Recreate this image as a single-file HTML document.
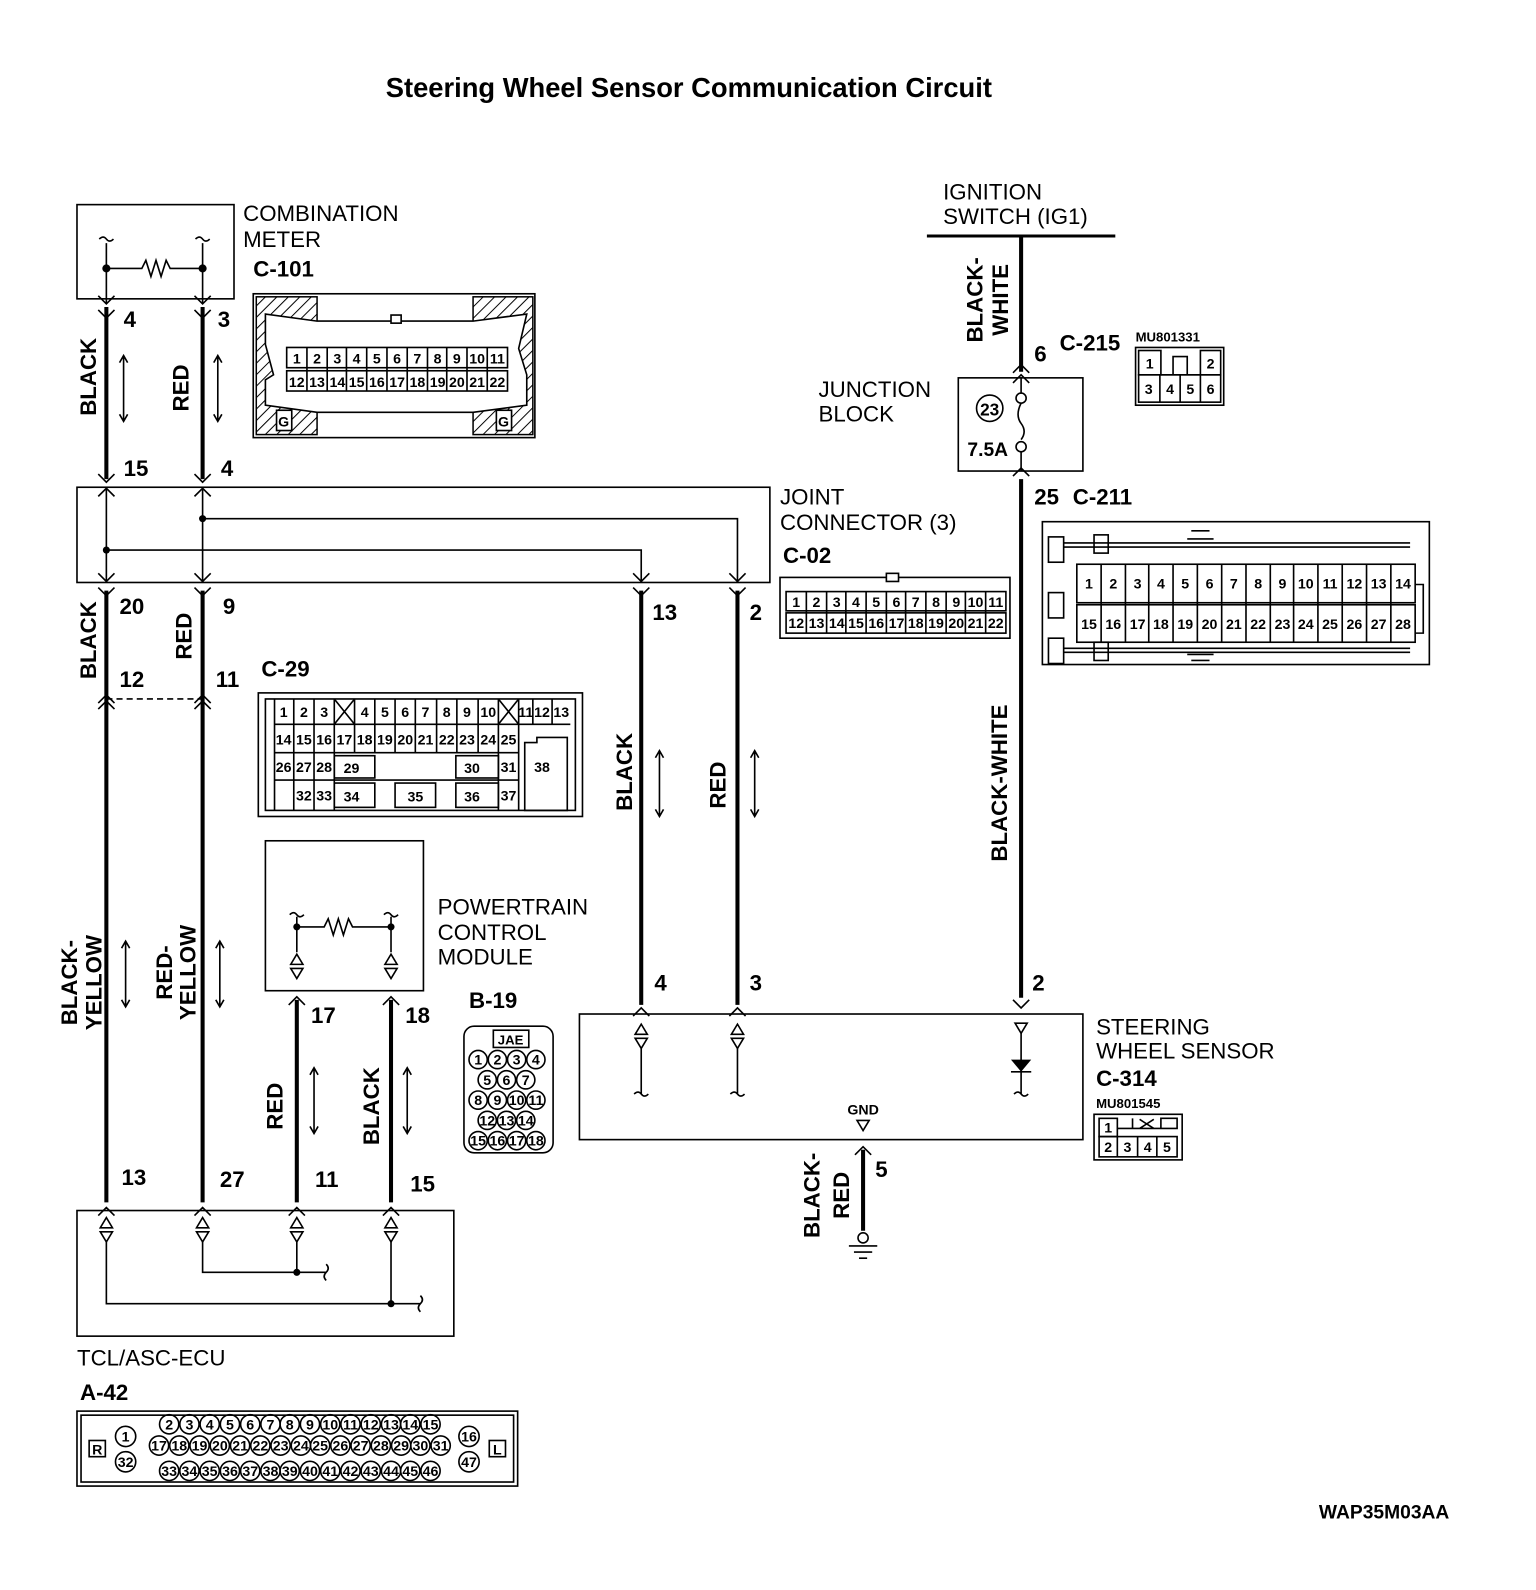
<!DOCTYPE html>
<html><head><meta charset="utf-8"><style>
html,body{margin:0;padding:0;background:#fff;}
svg{display:block;}
text{font-family:"Liberation Sans",sans-serif;fill:#000;}
.l{font-size:22px;}
.b{font-size:22px;font-weight:bold;}
.s{font-size:13px;font-weight:bold;}
.c{font-size:14px;font-weight:bold;text-anchor:middle;}
.w{stroke:#000;stroke-width:4;fill:none;}
.t{stroke:#000;stroke-width:1.6;fill:none;}
.r{stroke:#000;stroke-width:1.6;fill:#fff;}
</style></head><body>
<svg width="1536" height="1590" viewBox="0 0 1536 1590" xmlns="http://www.w3.org/2000/svg">
<defs>
<pattern id="h" width="8" height="8" patternUnits="userSpaceOnUse" patternTransform="rotate(45)"><line x1="0" y1="0" x2="0" y2="8" stroke="#000" stroke-width="2"/></pattern>
</defs>
<g transform="scale(1.013)">
<text x="680" y="96" text-anchor="middle" style="font-size:27px;font-weight:bold">Steering Wheel Sensor Communication Circuit</text>

<!-- combination meter -->
<rect x="76" y="202" width="155" height="93" class="t"/>
<path d="M105 240 V300 M200 240 V300 M105 265 H140 l4 -8 l5 16 l5 -16 l5 16 l5 -16 l4 8 H200" class="t"/>
<path d="M98 236 q4 -4 7 0 q3 4 7 0 M193 236 q4 -4 7 0 q3 4 7 0" class="t"/>
<circle cx="105" cy="265" r="4"/><circle cx="200" cy="265" r="4"/>
<text x="240" y="218" class="l">COMBINATION</text><text x="240" y="244" class="l">METER</text>
<text x="250" y="273" class="b">C-101</text>

<!-- main wires -->
<path d="M105 303 V473 M200 303 V473 M105 583 V1187 M200 583 V1187 M633 583 V992 M728 583 V992 M1008 233 V367 M1008 473 V985 M293 987 V1187 M386 987 V1187 M852 1135 V1215" class="w"/>
<!-- forks -->
<path d="M97 292 L105 300 L113 292 M192 292 L200 300 L208 292 M97 306 L105 314 L113 306 M192 306 L200 314 L208 306
M97 490 L105 482 L113 490 M192 490 L200 482 L208 490 M97 468 L105 476 L113 468 M192 468 L200 476 L208 468
M97 566 L105 574 L113 566 M192 566 L200 574 L208 566 M97 580 L105 588 L113 580 M192 580 L200 588 L208 580
M625 566 L633 574 L641 566 M720 566 L728 574 L736 566 M625 580 L633 588 L641 580 M720 580 L728 588 L736 580
M97 694 L105 686 L113 694 M192 694 L200 686 L208 694 M97 700 L105 692 L113 700 M192 700 L200 692 L208 700
M625 1003 L633 995 L641 1003 M720 1003 L728 995 L736 1003 M1000 987 L1008 995 L1016 987
M285 992 L293 984 L301 992 M378 992 L386 984 L394 992 M844 1140 L852 1132 L860 1140
M97 1200 L105 1192 L113 1200 M192 1200 L200 1192 L208 1200 M285 1200 L293 1192 L301 1200 M378 1200 L386 1192 L394 1200
M1000 378 L1008 370 L1016 378 M1000 470 L1008 462 L1016 470 M1000 368 L1008 360 L1016 368" class="t"/>
<path d="M105 690 H200" class="t" stroke-dasharray="6,4"/>
<text x="122" y="323" class="b">4</text><text x="215" y="323" class="b">3</text>
<text transform="translate(95,372) rotate(-90)" text-anchor="middle" class="b">BLACK</text>
<text transform="translate(186,383) rotate(-90)" text-anchor="middle" class="b">RED</text>
<path d="M122 352 V415 M118 358 L122 351 L126 358 M118 409 L122 416 L126 409 M215 352 V415 M211 358 L215 351 L219 358 M211 409 L215 416 L219 409" class="t"/>
<text x="122" y="470" class="b">15</text><text x="218" y="470" class="b">4</text>

<!-- joint connector -->
<rect x="76" y="481" width="684" height="94" class="t"/>
<path d="M200 512 H728 V575 M105 543 H633 V575" class="t"/>
<circle cx="200" cy="512" r="3.5"/><circle cx="105" cy="543" r="3.5"/>
<path d="M105 481 V575 M200 481 V575" class="t"/>
<text x="770" y="498" class="l">JOINT</text><text x="770" y="523" class="l">CONNECTOR (3)</text>
<text x="773" y="556" class="b">C-02</text>

<text x="118" y="606" class="b">20</text><text x="220" y="606" class="b">9</text>
<text transform="translate(95,632) rotate(-90)" text-anchor="middle" class="b">BLACK</text>
<text transform="translate(189,628) rotate(-90)" text-anchor="middle" class="b">RED</text>
<text x="118" y="678" class="b">12</text><text x="213" y="678" class="b">11</text>
<text x="258" y="668" class="b">C-29</text>
<text x="644" y="612" class="b">13</text><text x="740" y="612" class="b">2</text>
<text transform="translate(624,762) rotate(-90)" text-anchor="middle" class="b">BLACK</text>
<text transform="translate(716,775) rotate(-90)" text-anchor="middle" class="b">RED</text>
<path d="M651 742 V805 M647 748 L651 741 L655 748 M647 799 L651 806 L655 799 M745 742 V805 M741 748 L745 741 L749 748 M741 799 L745 806 L749 799" class="t"/>

<text transform="translate(76,970) rotate(-90)" text-anchor="middle" class="b">BLACK-</text>
<text transform="translate(100,970) rotate(-90)" text-anchor="middle" class="b">YELLOW</text>
<text transform="translate(170,960) rotate(-90)" text-anchor="middle" class="b">RED-</text>
<text transform="translate(193,960) rotate(-90)" text-anchor="middle" class="b">YELLOW</text>
<path d="M124 930 V993 M120 936 L124 929 L128 936 M120 987 L124 994 L128 987 M217 930 V993 M213 936 L217 929 L221 936 M213 987 L217 994 L221 987" class="t"/>

<!-- PCM -->
<rect x="262" y="830" width="156" height="148" class="t"/>
<path d="M293 915 H320 l4 -8 l5 16 l5 -16 l5 16 l5 -16 l4 8 H386 M293 905 V940 M386 905 V940" class="t"/>
<path d="M286 903 q4 -4 7 0 q3 4 7 0 M379 903 q4 -4 7 0 q3 4 7 0" class="t"/>
<circle cx="293" cy="915" r="3.5"/><circle cx="386" cy="915" r="3.5"/>
<path d="M287 952 L293 942 L299 952 Z M287 956 L293 966 L299 956 Z M380 952 L386 942 L392 952 Z M380 956 L386 966 L392 956 Z" class="t"/>
<text x="432" y="903" class="l">POWERTRAIN</text><text x="432" y="928" class="l">CONTROL</text><text x="432" y="952" class="l">MODULE</text>
<text x="307" y="1010" class="b">17</text><text x="400" y="1010" class="b">18</text>
<text x="463" y="995" class="b">B-19</text>
<text transform="translate(279,1092) rotate(-90)" text-anchor="middle" class="b">RED</text>
<text transform="translate(374,1092) rotate(-90)" text-anchor="middle" class="b">BLACK</text>
<path d="M310 1055 V1118 M306 1061 L310 1054 L314 1061 M306 1112 L310 1119 L314 1112 M402 1055 V1118 M398 1061 L402 1054 L406 1061 M398 1112 L402 1119 L406 1112" class="t"/>
<text x="120" y="1170" class="b">13</text><text x="217" y="1172" class="b">27</text><text x="311" y="1172" class="b">11</text><text x="405" y="1176" class="b">15</text>

<!-- TCL box -->
<rect x="76" y="1195" width="372" height="124" class="t"/>
<path d="M99 1212 L105 1202 L111 1212 Z M99 1216 L105 1226 L111 1216 Z M194 1212 L200 1202 L206 1212 Z M194 1216 L200 1226 L206 1216 Z M287 1212 L293 1202 L299 1212 Z M287 1216 L293 1226 L299 1216 Z M380 1212 L386 1202 L392 1212 Z M380 1216 L386 1226 L392 1216 Z" class="t"/>
<path d="M200 1226 V1256 H322 M293 1226 V1256 M105 1226 V1287 H415 M386 1226 V1287" class="t"/>
<path d="M322 1248 q4 4 0 8 q-4 4 0 8 M415 1279 q4 4 0 8 q-4 4 0 8" class="t"/>
<circle cx="293" cy="1256" r="3.5"/><circle cx="386" cy="1287" r="3.5"/>
<text x="76" y="1348" class="l">TCL/ASC-ECU</text>
<text x="79" y="1382" class="b">A-42</text>

<!-- A-42 connector -->
<rect x="76" y="1393" width="435" height="74" class="t"/>
<rect x="80" y="1397" width="427" height="66" class="t"/>
<rect x="88" y="1422" width="16" height="16" class="t"/><text x="96" y="1436" class="c">R</text>
<rect x="483" y="1422" width="16" height="16" class="t"/><text x="491" y="1436" class="c">L</text>
<g class="t">
<circle cx="124" cy="1418" r="10"/><circle cx="124" cy="1443" r="10"/><circle cx="463" cy="1418" r="10"/><circle cx="463" cy="1443" r="10"/>
</g>
<text x="124" y="1423" class="c">1</text><text x="124" y="1448" class="c">32</text><text x="463" y="1423" class="c">16</text><text x="463" y="1448" class="c">47</text>
<g class="t">
<circle cx="167" cy="1406" r="9.5"/><circle cx="187" cy="1406" r="9.5"/><circle cx="207" cy="1406" r="9.5"/><circle cx="227" cy="1406" r="9.5"/><circle cx="247" cy="1406" r="9.5"/><circle cx="267" cy="1406" r="9.5"/><circle cx="286" cy="1406" r="9.5"/><circle cx="306" cy="1406" r="9.5"/><circle cx="326" cy="1406" r="9.5"/><circle cx="346" cy="1406" r="9.5"/><circle cx="366" cy="1406" r="9.5"/><circle cx="386" cy="1406" r="9.5"/><circle cx="405" cy="1406" r="9.5"/><circle cx="425" cy="1406" r="9.5"/>
<circle cx="157" cy="1427" r="9.5"/><circle cx="177" cy="1427" r="9.5"/><circle cx="197" cy="1427" r="9.5"/><circle cx="217" cy="1427" r="9.5"/><circle cx="237" cy="1427" r="9.5"/><circle cx="257" cy="1427" r="9.5"/><circle cx="277" cy="1427" r="9.5"/><circle cx="297" cy="1427" r="9.5"/><circle cx="316" cy="1427" r="9.5"/><circle cx="336" cy="1427" r="9.5"/><circle cx="356" cy="1427" r="9.5"/><circle cx="376" cy="1427" r="9.5"/><circle cx="396" cy="1427" r="9.5"/><circle cx="415" cy="1427" r="9.5"/><circle cx="435" cy="1427" r="9.5"/>
<circle cx="167" cy="1452" r="9.5"/><circle cx="187" cy="1452" r="9.5"/><circle cx="207" cy="1452" r="9.5"/><circle cx="227" cy="1452" r="9.5"/><circle cx="247" cy="1452" r="9.5"/><circle cx="267" cy="1452" r="9.5"/><circle cx="286" cy="1452" r="9.5"/><circle cx="306" cy="1452" r="9.5"/><circle cx="326" cy="1452" r="9.5"/><circle cx="346" cy="1452" r="9.5"/><circle cx="366" cy="1452" r="9.5"/><circle cx="386" cy="1452" r="9.5"/><circle cx="405" cy="1452" r="9.5"/><circle cx="425" cy="1452" r="9.5"/>
</g>
<g style="font-size:13px">
<text x="167" y="1411" class="c">2</text><text x="187" y="1411" class="c">3</text><text x="207" y="1411" class="c">4</text><text x="227" y="1411" class="c">5</text><text x="247" y="1411" class="c">6</text><text x="267" y="1411" class="c">7</text><text x="286" y="1411" class="c">8</text><text x="306" y="1411" class="c">9</text><text x="326" y="1411" class="c">10</text><text x="346" y="1411" class="c">11</text><text x="366" y="1411" class="c">12</text><text x="386" y="1411" class="c">13</text><text x="405" y="1411" class="c">14</text><text x="425" y="1411" class="c">15</text>
<text x="157" y="1432" class="c">17</text><text x="177" y="1432" class="c">18</text><text x="197" y="1432" class="c">19</text><text x="217" y="1432" class="c">20</text><text x="237" y="1432" class="c">21</text><text x="257" y="1432" class="c">22</text><text x="277" y="1432" class="c">23</text><text x="297" y="1432" class="c">24</text><text x="316" y="1432" class="c">25</text><text x="336" y="1432" class="c">26</text><text x="356" y="1432" class="c">27</text><text x="376" y="1432" class="c">28</text><text x="396" y="1432" class="c">29</text><text x="415" y="1432" class="c">30</text><text x="435" y="1432" class="c">31</text>
<text x="167" y="1457" class="c">33</text><text x="187" y="1457" class="c">34</text><text x="207" y="1457" class="c">35</text><text x="227" y="1457" class="c">36</text><text x="247" y="1457" class="c">37</text><text x="267" y="1457" class="c">38</text><text x="286" y="1457" class="c">39</text><text x="306" y="1457" class="c">40</text><text x="326" y="1457" class="c">41</text><text x="346" y="1457" class="c">42</text><text x="366" y="1457" class="c">43</text><text x="386" y="1457" class="c">44</text><text x="405" y="1457" class="c">45</text><text x="425" y="1457" class="c">46</text>
</g>

<!-- C-101 connector -->
<rect x="250" y="290" width="278" height="142" class="t"/>
<rect x="253" y="293" width="60" height="136" fill="url(#h)" stroke="#000" stroke-width="1.5"/>
<rect x="467" y="293" width="59" height="136" fill="url(#h)" stroke="#000" stroke-width="1.5"/>
<path d="M313 317 H467 L520 310 L512 344 L520 370 L520 400 L467 407 H313 L262 400 L262 375 L270 370 L262 340 L262 310 Z" fill="#fff" stroke="#000" stroke-width="1.6"/>
<rect x="386" y="311" width="10" height="8" class="r"/>
<rect x="273" y="405" width="15" height="20" class="r"/><text x="280" y="421" class="c">G</text>
<rect x="490" y="405" width="15" height="20" class="r"/><text x="497" y="421" class="c">G</text>
<g class="t">
<rect x="283" y="343" width="218" height="20"/><rect x="283" y="366" width="218" height="20"/>
<path d="M303 343 V386 M323 343 V386 M342 343 V386 M362 343 V386 M382 343 V386 M402 343 V386 M422 343 V386 M441 343 V386 M461 343 V386 M481 343 V386"/>
</g>
<g style="font-size:14px">
<text x="293" y="359" class="c">1</text><text x="313" y="359" class="c">2</text><text x="333" y="359" class="c">3</text><text x="352" y="359" class="c">4</text><text x="372" y="359" class="c">5</text><text x="392" y="359" class="c">6</text><text x="412" y="359" class="c">7</text><text x="432" y="359" class="c">8</text><text x="451" y="359" class="c">9</text><text x="471" y="359" class="c">10</text><text x="491" y="359" class="c">11</text>
<text x="293" y="382" class="c">12</text><text x="313" y="382" class="c">13</text><text x="333" y="382" class="c">14</text><text x="352" y="382" class="c">15</text><text x="372" y="382" class="c">16</text><text x="392" y="382" class="c">17</text><text x="412" y="382" class="c">18</text><text x="432" y="382" class="c">19</text><text x="451" y="382" class="c">20</text><text x="471" y="382" class="c">21</text><text x="491" y="382" class="c">22</text>
</g>

<!-- C-02 connector -->
<rect x="770" y="570" width="227" height="60" class="t"/>
<rect x="875" y="566" width="12" height="8" class="r"/>
<g class="t">
<rect x="776" y="584" width="217" height="19"/><rect x="776" y="605" width="217" height="20"/>
<path d="M796 584 V625 M816 584 V625 M835 584 V625 M855 584 V625 M875 584 V625 M894 584 V625 M914 584 V625 M934 584 V625 M953 584 V625 M973 584 V625"/>
</g>
<g style="font-size:13px">
<text x="786" y="599" class="c">1</text><text x="806" y="599" class="c">2</text><text x="826" y="599" class="c">3</text><text x="845" y="599" class="c">4</text><text x="865" y="599" class="c">5</text><text x="885" y="599" class="c">6</text><text x="904" y="599" class="c">7</text><text x="924" y="599" class="c">8</text><text x="944" y="599" class="c">9</text><text x="963" y="599" class="c">10</text><text x="983" y="599" class="c">11</text>
<text x="786" y="620" class="c">12</text><text x="806" y="620" class="c">13</text><text x="826" y="620" class="c">14</text><text x="845" y="620" class="c">15</text><text x="865" y="620" class="c">16</text><text x="885" y="620" class="c">17</text><text x="904" y="620" class="c">18</text><text x="924" y="620" class="c">19</text><text x="944" y="620" class="c">20</text><text x="963" y="620" class="c">21</text><text x="983" y="620" class="c">22</text>
</g>

<!-- C-29 connector -->
<rect x="255" y="684" width="320" height="122" class="t"/>
<g class="t">
<rect x="262" y="690" width="306" height="110"/>
<path d="M271 690 V800 M290 690 V800 M310 690 V800 M330 690 V800 M512 690 V800 M271 715 H563 M271 743 H512 M271 770 H512"/>
<path d="M350 690 V715 M370 690 V715 M390 690 V715 M410 690 V715 M431 690 V715 M451 690 V715 M472 690 V715 M492 690 V715 M526 690 V715 M545 690 V715"/>
<path d="M350 715 V743 M370 715 V743 M390 715 V743 M410 715 V743 M431 715 V743 M451 715 V743 M472 715 V743 M492 715 V800"/>
<path d="M330 690 L350 715 M350 690 L330 715 M492 690 L512 715 M512 690 L492 715"/>
<rect x="330" y="746" width="40" height="22"/><rect x="450" y="746" width="42" height="22"/>
<rect x="330" y="773" width="40" height="24"/><rect x="390" y="773" width="40" height="24"/><rect x="450" y="773" width="42" height="24"/>
<path d="M518 733 H530 V728 H560 V800 H518 Z"/>
</g>
<g style="font-size:14px">
<text x="280" y="708" class="c">1</text><text x="300" y="708" class="c">2</text><text x="320" y="708" class="c">3</text><text x="360" y="708" class="c">4</text><text x="380" y="708" class="c">5</text><text x="400" y="708" class="c">6</text><text x="420" y="708" class="c">7</text><text x="441" y="708" class="c">8</text><text x="461" y="708" class="c">9</text><text x="482" y="708" class="c">10</text><text x="519" y="708" class="c">11</text><text x="535" y="708" class="c">12</text><text x="554" y="708" class="c">13</text>
<text x="280" y="735" class="c">14</text><text x="300" y="735" class="c">15</text><text x="320" y="735" class="c">16</text><text x="340" y="735" class="c">17</text><text x="360" y="735" class="c">18</text><text x="380" y="735" class="c">19</text><text x="400" y="735" class="c">20</text><text x="420" y="735" class="c">21</text><text x="441" y="735" class="c">22</text><text x="461" y="735" class="c">23</text><text x="482" y="735" class="c">24</text><text x="502" y="735" class="c">25</text>
<text x="280" y="762" class="c">26</text><text x="300" y="762" class="c">27</text><text x="320" y="762" class="c">28</text><text x="347" y="763" class="c">29</text><text x="466" y="763" class="c">30</text><text x="502" y="762" class="c">31</text><text x="535" y="762" class="c">38</text>
<text x="300" y="790" class="c">32</text><text x="320" y="790" class="c">33</text><text x="347" y="791" class="c">34</text><text x="410" y="791" class="c">35</text><text x="466" y="791" class="c">36</text><text x="502" y="790" class="c">37</text>
</g>

<!-- B-19 -->
<rect x="458" y="1013" width="88" height="125" rx="10" class="t"/>
<rect x="487" y="1017" width="35" height="17" class="t"/><text x="504" y="1031" class="c" style="font-size:13px">JAE</text>
<g class="t">
<circle cx="472" cy="1046" r="9"/><circle cx="491" cy="1046" r="9"/><circle cx="510" cy="1046" r="9"/><circle cx="529" cy="1046" r="9"/>
<circle cx="481" cy="1066" r="9"/><circle cx="500" cy="1066" r="9"/><circle cx="519" cy="1066" r="9"/>
<circle cx="472" cy="1086" r="9"/><circle cx="491" cy="1086" r="9"/><circle cx="510" cy="1086" r="9"/><circle cx="529" cy="1086" r="9"/>
<circle cx="481" cy="1106" r="9"/><circle cx="500" cy="1106" r="9"/><circle cx="519" cy="1106" r="9"/>
<circle cx="472" cy="1126" r="9"/><circle cx="491" cy="1126" r="9"/><circle cx="510" cy="1126" r="9"/><circle cx="529" cy="1126" r="9"/>
</g>
<g style="font-size:13px">
<text x="472" y="1051" class="c">1</text><text x="491" y="1051" class="c">2</text><text x="510" y="1051" class="c">3</text><text x="529" y="1051" class="c">4</text>
<text x="481" y="1071" class="c">5</text><text x="500" y="1071" class="c">6</text><text x="519" y="1071" class="c">7</text>
<text x="472" y="1091" class="c">8</text><text x="491" y="1091" class="c">9</text><text x="510" y="1091" class="c">10</text><text x="529" y="1091" class="c">11</text>
<text x="481" y="1111" class="c">12</text><text x="500" y="1111" class="c">13</text><text x="519" y="1111" class="c">14</text>
<text x="472" y="1131" class="c">15</text><text x="491" y="1131" class="c">16</text><text x="510" y="1131" class="c">17</text><text x="529" y="1131" class="c">18</text>
</g>

<!-- ignition / junction -->
<path d="M915 233 H1101" class="w" style="stroke-width:3"/>
<text x="931" y="197" class="l">IGNITION</text><text x="931" y="221" class="l">SWITCH (IG1)</text>
<text transform="translate(970,296) rotate(-90)" text-anchor="middle" class="b">BLACK-</text>
<text transform="translate(995,296) rotate(-90)" text-anchor="middle" class="b">WHITE</text>
<text x="1021" y="357" class="b">6</text><text x="1046" y="346" class="b">C-215</text>
<text x="1121" y="337" class="s">MU801331</text>
<rect x="946" y="373" width="123" height="92" class="t"/>
<path d="M1008 373 V388 M1008 398 q-6 12 0 20 q6 8 0 16 M1008 446 V465" class="t"/>
<circle cx="1008" cy="393" r="5" class="t"/><circle cx="1008" cy="441" r="5" class="t"/>
<circle cx="977" cy="403" r="13" class="t"/><text x="977" y="410" class="c" style="font-size:17px">23</text>
<text x="955" y="450" class="b" style="font-size:19px">7.5A</text>
<text x="808" y="392" class="l">JUNCTION</text><text x="808" y="416" class="l">BLOCK</text>
<text x="1021" y="498" class="b">25</text><text x="1059" y="498" class="b">C-211</text>
<text transform="translate(994,773) rotate(-90)" text-anchor="middle" class="b">BLACK-WHITE</text>

<!-- C-215 -->
<rect x="1121" y="343" width="87" height="57" class="t"/>
<g class="t"><rect x="1124" y="346" width="22" height="24"/><rect x="1185" y="346" width="20" height="24"/>
<path d="M1146 370 H1185 M1158 370 V352 H1172 V370"/>
<rect x="1124" y="370" width="81" height="27"/><path d="M1145 370 V397 M1165 370 V397 M1185 370 V397"/></g>
<text x="1135" y="364" class="c">1</text><text x="1195" y="364" class="c">2</text>
<text x="1134" y="389" class="c">3</text><text x="1155" y="389" class="c">4</text><text x="1175" y="389" class="c">5</text><text x="1195" y="389" class="c">6</text>

<!-- C-211 -->
<rect x="1029" y="515" width="382" height="141" class="t"/>
<g class="t">
<rect x="1035" y="530" width="15" height="25"/><rect x="1035" y="585" width="15" height="25"/><rect x="1035" y="630" width="15" height="25"/>
<rect x="1080" y="528" width="14" height="18"/><rect x="1080" y="634" width="14" height="18"/>
<path d="M1050 536 H1392 M1050 540 H1392 M1050 644 H1392 M1050 640 H1392"/>
<path d="M1176 524 H1194 M1172 532 H1198 M1176 652 H1194 M1172 646 H1198"/>
<rect x="1063" y="557" width="334" height="38"/><rect x="1063" y="597" width="334" height="37"/>
<path d="M1087 557 V634 M1111 557 V634 M1134 557 V634 M1158 557 V634 M1182 557 V634 M1206 557 V634 M1230 557 V634 M1254 557 V634 M1277 557 V634 M1301 557 V634 M1325 557 V634 M1349 557 V634 M1373 557 V634"/>
<path d="M1397 577 H1405 V625 H1397"/>
</g>
<g style="font-size:15px">
<text x="1075" y="581" class="c">1</text><text x="1099" y="581" class="c">2</text><text x="1123" y="581" class="c">3</text><text x="1146" y="581" class="c">4</text><text x="1170" y="581" class="c">5</text><text x="1194" y="581" class="c">6</text><text x="1218" y="581" class="c">7</text><text x="1242" y="581" class="c">8</text><text x="1266" y="581" class="c">9</text><text x="1289" y="581" class="c">10</text><text x="1313" y="581" class="c">11</text><text x="1337" y="581" class="c">12</text><text x="1361" y="581" class="c">13</text><text x="1385" y="581" class="c">14</text>
<text x="1075" y="621" class="c">15</text><text x="1099" y="621" class="c">16</text><text x="1123" y="621" class="c">17</text><text x="1146" y="621" class="c">18</text><text x="1170" y="621" class="c">19</text><text x="1194" y="621" class="c">20</text><text x="1218" y="621" class="c">21</text><text x="1242" y="621" class="c">22</text><text x="1266" y="621" class="c">23</text><text x="1289" y="621" class="c">24</text><text x="1313" y="621" class="c">25</text><text x="1337" y="621" class="c">26</text><text x="1361" y="621" class="c">27</text><text x="1385" y="621" class="c">28</text>
</g>

<!-- steering wheel sensor -->
<text x="646" y="978" class="b">4</text><text x="740" y="978" class="b">3</text><text x="1019" y="978" class="b">2</text>
<rect x="572" y="1001" width="497" height="124" class="t"/>
<path d="M627 1021 L633 1011 L639 1021 Z M627 1025 L633 1035 L639 1025 Z M722 1021 L728 1011 L734 1021 Z M722 1025 L728 1035 L734 1025 Z M1002 1010 L1008 1020 L1014 1010 Z" class="t"/>
<path d="M633 1035 V1080 M728 1035 V1080 M1008 1020 V1080 M626 1080 q4 -4 7 0 q3 4 7 0 M721 1080 q4 -4 7 0 q3 4 7 0 M1001 1080 q4 -4 7 0 q3 4 7 0 M998 1058 H1018" class="t"/>
<path d="M998 1046 L1018 1046 L1008 1058 Z" fill="#000"/>
<text x="852" y="1100" class="c">GND</text>
<path d="M846 1106 L852 1116 L858 1106 Z" class="t"/>
<text x="1082" y="1021" class="l">STEERING</text><text x="1082" y="1045" class="l">WHEEL SENSOR</text>
<text x="1082" y="1072" class="b">C-314</text><text x="1082" y="1094" class="s">MU801545</text>
<rect x="1080" y="1100" width="87" height="45" class="t"/>
<g class="t"><rect x="1085" y="1104" width="18" height="18"/><path d="M1103 1114 H1162 V1104 H1146 V1114 M1118 1104 V1114 H1146 M1125 1105 L1139 1114 M1139 1105 L1125 1114"/>
<rect x="1085" y="1122" width="77" height="20"/><path d="M1103 1122 V1142 M1123 1122 V1142 M1142 1122 V1142"/></g>
<text x="1094" y="1118" class="c">1</text><text x="1094" y="1137" class="c">2</text><text x="1113" y="1137" class="c">3</text><text x="1133" y="1137" class="c">4</text><text x="1152" y="1137" class="c">5</text>
<text x="864" y="1162" class="b">5</text>
<text transform="translate(809,1180) rotate(-90)" text-anchor="middle" class="b">BLACK-</text>
<text transform="translate(838,1180) rotate(-90)" text-anchor="middle" class="b">RED</text>
<circle cx="852" cy="1222" r="5" class="t"/>
<path d="M838 1230 H866 M843 1236 H861 M848 1242 H856" class="t"/>

<text x="1302" y="1499" class="b" style="font-size:19px">WAP35M03AA</text>
</g>
</svg>
</body></html>
